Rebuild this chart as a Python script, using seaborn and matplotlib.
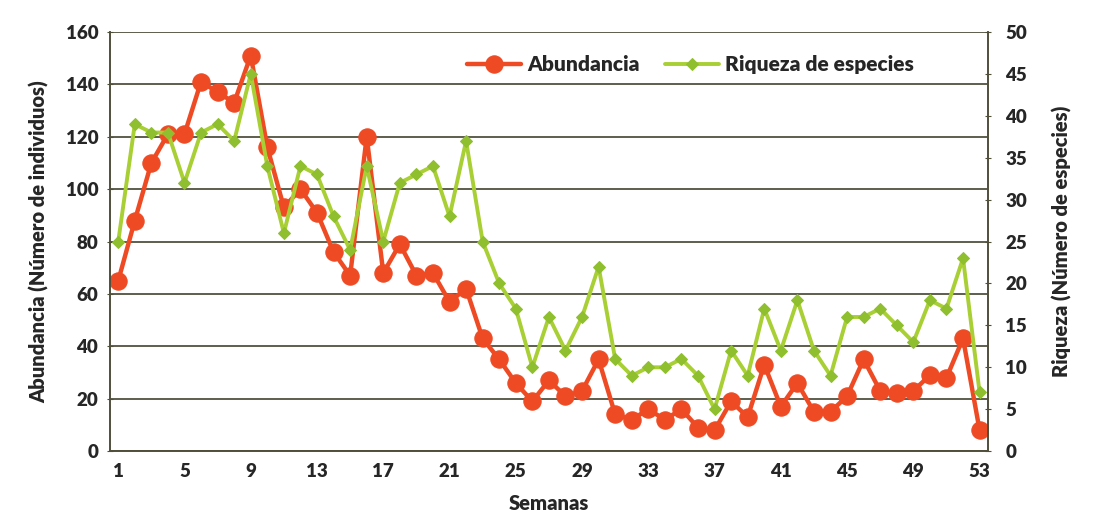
import matplotlib

matplotlib.use("Agg")
import matplotlib.pyplot as plt
import pandas as pd
import seaborn as sns
from matplotlib.ticker import MultipleLocator

semanas = list(range(1, 54))
abundancia = [
    65, 88, 110, 121, 121, 141, 137, 133, 151, 116,
    93, 100, 91, 76, 67, 120, 68, 79, 67, 68,
    57, 62, 43, 35, 26, 19, 27, 21, 23, 35,
    14, 12, 16, 12, 16, 9, 8, 19, 13, 33,
    17, 26, 15, 15, 21, 35, 23, 22, 23, 29,
    28, 43, 8,
]
riqueza = [
    25, 39, 38, 38, 32, 38, 39, 37, 45, 34,
    26, 34, 33, 28, 24, 34, 25, 32, 33, 34,
    28, 37, 25, 20, 17, 10, 16, 12, 16, 22,
    11, 9, 10, 10, 11, 9, 5, 12, 9, 17,
    12, 18, 12, 9, 16, 16, 17, 15, 13, 18,
    17, 23, 7,
]
xticks = list(range(1, 54, 4))

df = pd.DataFrame({"semana": semanas, "abundancia": abundancia, "riqueza": riqueza})

sns.set_style("white")
plt.rcParams["font.family"] = ["Lato", "DejaVu Sans"]

red = "#ee4a24"
green = "#a8cf34"
green_mk = "#8fbf2e"
grid_col = "#5e5e4e"
spine_col = "#4f4f3a"
fw = "heavy"

fig = plt.figure(figsize=(10.94, 5.32), dpi=100)
ax = fig.add_axes([0.1005, 0.152, 0.8025, 0.788])
ax2 = ax.twinx()

sns.lineplot(data=df, x="semana", y="abundancia", ax=ax, color=red, lw=3.2,
             marker="o", markersize=12.5, markeredgecolor=red, label="Abundancia",
             legend=False)
sns.lineplot(data=df, x="semana", y="riqueza", ax=ax2, color=green, lw=2.8,
             marker="D", markersize=6, markeredgecolor=green_mk,
             markerfacecolor=green_mk, label="Riqueza de especies",
             legend=False)

ax.set_xlim(0.5, 53.5)
ax.set_ylim(0, 160)
ax2.set_ylim(0, 50)
ax.set_xticks(xticks)
ax.xaxis.set_minor_locator(MultipleLocator(1))
ax.yaxis.set_major_locator(MultipleLocator(20))
ax2.yaxis.set_major_locator(MultipleLocator(5))

ax.yaxis.grid(True, color=grid_col, lw=1.4)
ax.set_axisbelow(True)

for a in (ax, ax2):
    a.spines["top"].set_visible(False)
    for side in ("left", "right", "bottom"):
        a.spines[side].set_color(spine_col)
        a.spines[side].set_linewidth(1.2)

ax.tick_params(axis="both", which="major", labelsize=13.5, length=5,
               direction="inout", color=spine_col, pad=6)
ax.tick_params(axis="x", which="minor", length=3, direction="inout",
               color=spine_col)
ax2.tick_params(axis="y", labelsize=13.5, length=5, direction="inout",
                color=spine_col, pad=10)
for lab in ax.get_xticklabels() + ax.get_yticklabels() + ax2.get_yticklabels():
    lab.set_fontweight(fw)

ax.set_xlabel("Semanas", fontsize=14.5, fontweight=fw, labelpad=10)
ax.set_ylabel("Abundancia (Número de individuos)", fontsize=14.5,
              fontweight=fw, labelpad=12)
ax2.set_ylabel("Riqueza (Número de especies)", fontsize=14.5,
               fontweight=fw, labelpad=18)

h1, l1 = ax.get_legend_handles_labels()
h2, l2 = ax2.get_legend_handles_labels()
leg = ax2.legend(h1 + h2, l1 + l2, loc="upper left", bbox_to_anchor=(0.385, 0.99),
                 ncol=2, frameon=False, fontsize=15, handlelength=2.6,
                 columnspacing=1.2, handletextpad=0.3)
for t in leg.get_texts():
    t.set_fontweight(fw)

fig.savefig("out.png", dpi=100)
plt.close(fig)
